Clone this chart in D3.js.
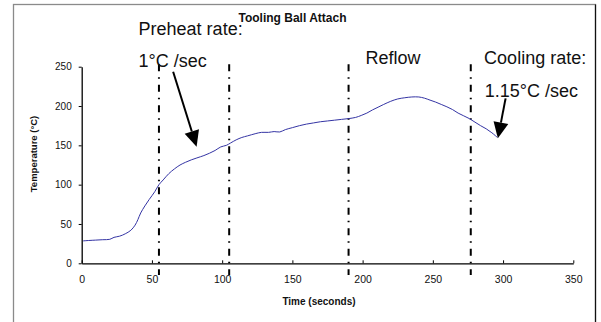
<!DOCTYPE html>
<html><head><meta charset="utf-8">
<script src="https://cdn.jsdelivr.net/npm/d3@7"></script>
<style>body{margin:0;background:#fff}svg{display:block}text{font-family:"Liberation Sans",Arial,sans-serif}</style>
</head><body><svg id="c" width="601" height="322"></svg>
<script>
const title = "Tooling Ball Attach";
const xLabel = "Time (seconds)";
const yLabel = "Temperature (°C)";
const xTicks = [0,50,100,150,200,250,300,350];
const yTicks = [0,50,100,150,200,250];
const timeS = [1,5,10,15,20,23,27,31,35,38,40,42,45,48,52,55,58,62,66,70,74,78,82,87,91,95,99,103,106,110,114,118,124,128,133,137,141,145,150,155,160,165,170,175,180,185,190,195,199,203,207,211,215,220,225,230,235,240,244,248,252,256,260,264,268,272,276,280,284,288,292,296];
const tempC = [28.5,29,29.5,30,30.5,33,34.5,37.5,42,48.5,55.5,64,73,81,91,100,106,114,120,125,128.5,131.5,134,137,140,143.5,148,150,153,157,160,162,165,166.5,166.5,167.5,167,170,172.5,175,177,178.5,180,181,182,183,184,185.5,188,191,195,198.5,202,206,209,210.5,211.5,211.5,210,207.5,205,202,199,195.5,191,187.5,184,179.5,175,171,166,160];
const phaseLines = [55,105,190,277];
const notes = [
  {text:"Preheat rate:", t:40.5, T:290},
  {text:"1°C /sec", t:40.5, T:250},
  {text:"Reflow", t:202, T:254},
  {text:"Cooling rate:", t:286.5, T:254},
  {text:"1.15°C /sec", t:287, T:212}
];
const arrows = [
  {t0:65.1, T0:243.5, t1:81.8, T1:148.2},
  {t0:301.8, T0:209.7, t1:296.3, T1:158.9}
];

const svg = d3.select("#c");
const x = d3.scaleLinear().domain([0,350]).range([81.7,573.3]);
const y = d3.scaleLinear().domain([0,250]).range([263.3,66.7]);

// frame
svg.append("rect").attr("x",13.5).attr("y",4.5).attr("width",582).attr("height",330)
  .attr("fill","none").attr("stroke","#8a8a8a").attr("stroke-width",1.3);
svg.append("line").attr("x1",595.5).attr("x2",595.5).attr("y1",4.5).attr("y2",322)
  .attr("stroke","#111").attr("stroke-width",1.2);

// axes
const gx = svg.append("g").attr("transform",`translate(0,${y(0)})`)
  .call(d3.axisBottom(x).tickValues(xTicks).tickSize(-3).tickPadding(12.5).tickSizeOuter(0));
const gy = svg.append("g").attr("transform",`translate(${x(0)},0)`)
  .call(d3.axisLeft(y).tickValues(yTicks).tickSize(3).tickPadding(7).tickSizeOuter(0));
[gx,gy].forEach(g=>{
  g.select(".domain").attr("stroke","#000").attr("stroke-width",1.3);
  g.selectAll(".tick line").attr("stroke","#000").attr("stroke-width",1);
  g.selectAll(".tick text").attr("fill","#111").style("font-family","'Liberation Sans',Arial,sans-serif");
});
gx.selectAll(".tick text").style("font-size","10.5px");
gy.selectAll(".tick text").style("font-size","10px");

// phase lines
svg.append("g").selectAll("line").data(phaseLines).join("line")
  .attr("x1",d=>x(d)).attr("x2",d=>x(d)).attr("y1",y(253)).attr("y2",y(-15))
  .attr("stroke","#000").attr("stroke-width",2).attr("stroke-dasharray","7,6,1.5,6");

// curve
const pts = timeS.map((t,i)=>[t,tempC[i]]);
svg.append("path").datum(pts)
  .attr("d",d3.line().x(d=>x(d[0])).y(d=>y(d[1])).curve(d3.curveCatmullRom))
  .attr("fill","none").attr("stroke","#3434a4").attr("stroke-width",1);

// arrows
arrows.forEach(a=>{
  const x0=x(a.t0), y0=y(a.T0), x1=x(a.t1), y1=y(a.T1);
  const dx=x1-x0, dy=y1-y0, L=Math.hypot(dx,dy), ux=dx/L, uy=dy/L;
  const hl=16, hw=7.5;
  const bx=x1-ux*hl, by=y1-uy*hl;
  svg.append("line").attr("x1",x0).attr("y1",y0).attr("x2",bx).attr("y2",by)
    .attr("stroke","#000").attr("stroke-width",2);
  svg.append("polygon").attr("points",[[x1,y1],[bx-uy*hw,by+ux*hw],[bx+uy*hw,by-ux*hw]].map(p=>p.join(",")).join(" "))
    .attr("fill","#000");
});

// annotation texts
svg.append("g").selectAll("text").data(notes).join("text")
  .attr("x",d=>x(d.t)).attr("y",d=>y(d.T)).text(d=>d.text)
  .style("font-size","18px").attr("fill","#111");

// titles
svg.append("text").attr("x",292.5).attr("y",21.5).attr("text-anchor","middle")
  .style("font-size","12px").style("font-weight","bold").attr("fill","#111").text(title);
svg.append("text").attr("x",319).attr("y",305).attr("text-anchor","middle")
  .style("font-size","10px").style("font-weight","bold").attr("fill","#111").text(xLabel);
svg.append("text").attr("transform","translate(36.5,154) rotate(-90)").attr("text-anchor","middle")
  .style("font-size","9.5px").style("font-weight","bold").attr("fill","#111").text(yLabel);
</script></body></html>
